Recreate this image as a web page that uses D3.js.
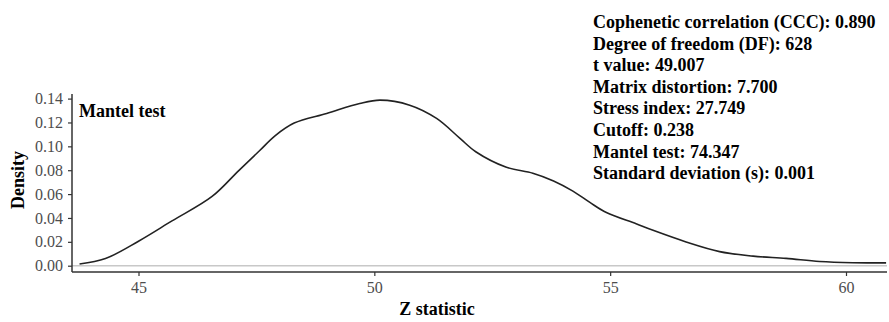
<!DOCTYPE html>
<html>
<head>
<meta charset="utf-8">
<script src="https://cdn.jsdelivr.net/npm/d3@7"></script>
<style>
  body { margin: 0; background: #fff; }
  svg { display: block; }
  text { font-family: "Liberation Serif", "Times New Roman", serif; }
</style>
</head>
<body>
<script>
// density curve of the Z statistic
var zStat = [43.75, 44.3, 45.0, 45.71, 46.56, 47.12, 47.57, 47.9, 48.3, 48.99, 49.69, 50.12,
  50.75, 51.32, 51.81, 52.15, 52.8, 53.36, 53.8, 54.21, 54.57, 54.92, 55.55, 55.91,
  56.61, 57.32, 58.03, 58.73, 59.44, 60.14, 60.85];
var density = [0.0014, 0.006, 0.0205, 0.0375, 0.058, 0.0795, 0.0965, 0.109, 0.1195, 0.1276, 0.1359, 0.1387,
  0.1345, 0.1234, 0.1069, 0.0955, 0.0825, 0.0775, 0.071, 0.0625, 0.053, 0.0445, 0.0351, 0.0296,
  0.0199, 0.0118, 0.008, 0.0061, 0.0035, 0.0025, 0.0024];

var xTicks = [45, 50, 55, 60];
var yTicks = [0, 0.02, 0.04, 0.06, 0.08, 0.10, 0.12, 0.14];

var stats = [
  "Cophenetic correlation (CCC): 0.890",
  "Degree of freedom (DF): 628",
  "t value: 49.007",
  "Matrix distortion: 7.700",
  "Stress index: 27.749",
  "Cutoff: 0.238",
  "Mantel test: 74.347",
  "Standard deviation (s): 0.001"
];

var width = 889, height = 322;
var panel = {left: 72, right: 887, top: 94, bottom: 272};

var x = d3.scaleLinear().domain([45, 60]).range([138.5, 846]);
var y = d3.scaleLinear().domain([0, 0.14]).range([265.7, 98.6]);

var svg = d3.select("body").append("svg")
    .attr("width", width)
    .attr("height", height);

// zero reference line
svg.append("line")
    .attr("x1", panel.left).attr("x2", panel.right)
    .attr("y1", y(0)).attr("y2", y(0))
    .style("stroke", "#c8c8c8")
    .style("stroke-width", 1.5);

// density line
var line = d3.line()
    .x(function(d, i) { return x(zStat[i]); })
    .y(function(d) { return y(d); })
    .curve(d3.curveCatmullRom.alpha(0.5));

svg.append("path")
    .datum(density)
    .attr("d", line)
    .style("fill", "none")
    .style("stroke", "#222")
    .style("stroke-width", 1.6);

// axes
var yAxis = svg.append("g")
    .attr("transform", "translate(" + panel.left + ",0)")
    .call(d3.axisLeft(y).tickValues(yTicks).tickSize(4).tickPadding(5)
      .tickFormat(d3.format(".2f")));
yAxis.select(".domain").remove();

var xAxis = svg.append("g")
    .attr("transform", "translate(0," + panel.bottom + ")")
    .call(d3.axisBottom(x).tickValues(xTicks).tickSize(4).tickPadding(6)
      .tickFormat(d3.format("d")));
xAxis.select(".domain").remove();

[yAxis, xAxis].forEach(function(a) {
  a.selectAll("line").style("stroke", "#333").style("stroke-width", 1.2);
  a.selectAll("text")
    .style("font-family", "'Liberation Serif', serif")
    .style("font-size", "16px")
    .style("fill", "#4d4d4d");
});

svg.append("line")
    .attr("x1", panel.left).attr("x2", panel.left)
    .attr("y1", panel.top).attr("y2", panel.bottom)
    .style("stroke", "#333").style("stroke-width", 1.5);
svg.append("line")
    .attr("x1", panel.left).attr("x2", panel.right)
    .attr("y1", panel.bottom).attr("y2", panel.bottom)
    .style("stroke", "#333").style("stroke-width", 1.5);

// axis titles
svg.append("text")
    .attr("x", 437)
    .attr("y", 315)
    .attr("text-anchor", "middle")
    .style("font-size", "18px")
    .style("font-weight", "bold")
    .text("Z statistic");

svg.append("text")
    .attr("transform", "translate(24,180) rotate(-90)")
    .attr("text-anchor", "middle")
    .style("font-size", "18px")
    .style("font-weight", "bold")
    .text("Density");

// panel label
svg.append("text")
    .attr("x", 79)
    .attr("y", 117)
    .style("font-size", "18px")
    .style("font-weight", "bold")
    .text("Mantel test");

// statistics block
svg.append("g").selectAll("text")
    .data(stats)
  .enter().append("text")
    .attr("x", 593)
    .attr("y", function(d, i) { return 28 + i * 21.6; })
    .style("font-size", "18px")
    .style("font-weight", "bold")
    .text(function(d) { return d; });
</script>
</body>
</html>
